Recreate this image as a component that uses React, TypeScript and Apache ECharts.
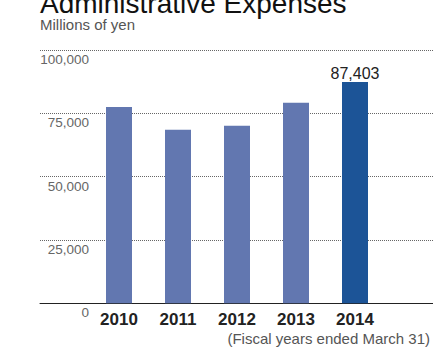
import React, { useEffect, useRef } from "react";
import * as echarts from "echarts";

const categories = ["2010", "2011", "2012", "2013", "2014"];
const values = [77500, 68500, 70100, 79200, 87403];
const yTicks = [0, 25000, 50000, 75000, 100000];
const highlightIndex = 4;
const labelledIndex = 4;

const FONT = '"Liberation Sans", Arial, Helvetica, sans-serif';

export default function App() {
  const ref = useRef<HTMLDivElement>(null);
  useEffect(() => {
    if (!ref.current) return;
    const chart = echarts.init(ref.current, undefined, { renderer: "svg" });
    const fmt = (v: number) => v.toLocaleString("en-US");
    chart.setOption({
      animation: false,
      textStyle: { fontFamily: FONT },
      graphic: [
        {
          type: "text",
          left: 40,
          top: -11,
          style: { text: "Administrative Expenses", fontSize: 28, fill: "#111", fontFamily: FONT },
        },
        {
          type: "text",
          x: 40,
          y: 24,
          style: { text: "Millions of yen", fontSize: 15, fill: "#555", fontFamily: FONT, verticalAlign: "middle" },
        },
        {
          type: "text",
          x: 430,
          y: 338.8,
          style: {
            text: "(Fiscal years ended March 31)",
            fontSize: 15,
            fill: "#555",
            fontFamily: FONT,
            align: "right",
            verticalAlign: "middle",
          },
        },
      ],
      grid: [
        { left: 40, right: 0, top: 50, bottom: 44.7 },
        { left: 89.5, width: 295, top: 50, bottom: 44.7 },
      ],
      xAxis: [
        {
          gridIndex: 0,
          type: "category",
          data: [],
          axisLine: { show: true, lineStyle: { color: "#222", width: 1 } },
          axisTick: { show: false },
          axisLabel: { show: false },
        },
        {
          gridIndex: 1,
          type: "category",
          data: categories,
          axisLine: { show: false },
          axisTick: { show: false },
          axisLabel: {
            margin: 7.3,
            fontSize: 17,
            fontWeight: "bold",
            color: "#222",
            fontFamily: FONT,
          },
        },
      ],
      yAxis: [
        {
          gridIndex: 0,
          type: "value",
          min: yTicks[0],
          max: yTicks[yTicks.length - 1],
          interval: yTicks[1] - yTicks[0],
          axisLine: { show: false },
          axisTick: { show: false },
          splitLine: {
            show: true,
            lineStyle: { type: "dotted", color: "#666", width: 1 },
          },
          axisLabel: {
            inside: true,
            margin: 49,
            align: "right",
            verticalAlign: "top",
            lineHeight: 19,
            fontSize: 13.5,
            color: "#666",
            fontFamily: FONT,
            formatter: (v: number) => fmt(v),
          },
        },
        {
          gridIndex: 1,
          type: "value",
          min: yTicks[0],
          max: yTicks[yTicks.length - 1],
          show: false,
          splitLine: { show: false },
        },
      ],
      series: [
        {
          type: "bar",
          xAxisIndex: 1,
          yAxisIndex: 1,
          barWidth: 26,
          data: values.map((v, i) => ({
            value: v,
            itemStyle: { color: i === highlightIndex ? "#1c5497" : "#6277b0" },
            label: {
              show: i === labelledIndex,
              position: "top",
              distance: 0,
              fontSize: 16,
              color: "#222",
              fontFamily: FONT,
              formatter: (p: any) => fmt(p.value),
            },
          })),
        },
      ],
    });
    return () => chart.dispose();
  }, []);
  return (
    <div
      ref={ref}
      style={{ position: "fixed", left: 0, top: 0, width: 433, height: 348, background: "#fff" }}
    />
  );
}
